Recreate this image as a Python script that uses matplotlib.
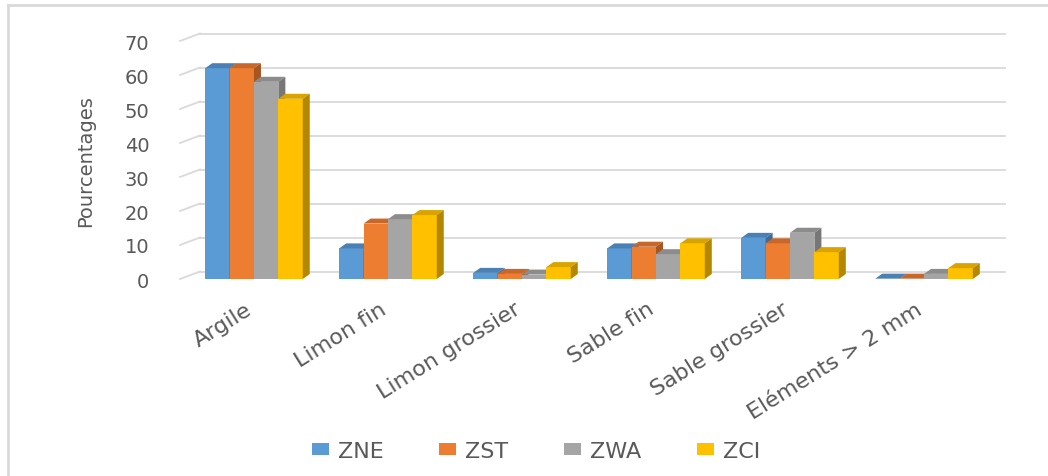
# Histogramme 3D : granulométrie par zone

import matplotlib.pyplot as plt
import numpy as np
from matplotlib.patches import Polygon, Patch
from matplotlib.lines import Line2D
import matplotlib.transforms as mtransforms

categories = ['Argile', 'Limon fin', 'Limon grossier', 'Sable fin', 'Sable grossier', 'Eléments > 2 mm']
series = ['ZNE', 'ZST', 'ZWA', 'ZCI']

zne = [62, 9, 1.8, 9, 12.1, 0.1]
zst = [62, 16.3, 1.5, 9.5, 10.5, 0.1]
zwa = [58, 17.6, 1.3, 7.3, 13.6, 1.5]
zci = [53, 18.8, 3.5, 10.5, 7.9, 3.2]

yticks = [0, 10, 20, 30, 40, 50, 60, 70]

colors = ['#5B9BD5', '#ED7D31', '#A5A5A5', '#FFC000']
tops = ['#4A80B4', '#C8672A', '#8C8C8C', '#D9A300']
sides = ['#3E6C97', '#A85620', '#777777', '#B38700']
text_col = '#595959'
grid_col = '#D9D9D9'

plt.rcParams['font.family'] = ['DejaVu Sans']

fig = plt.figure(figsize=(10.48, 4.77), dpi=100)
# zone du tracé (plan avant)
ax = fig.add_axes([180/1048, 1 - 280/477, 805/1048, 238/477])

x = np.arange(len(categories))
width = 0.182
ax.set_xlim(-0.552, 5.455)
ax.set_ylim(0, 70)

# conversion pixels -> unités de données
p0 = ax.transData.transform((0, 0))
p1 = ax.transData.transform((1, 10))
sx = p1[0] - p0[0]
sy = (p1[1] - p0[1]) / 10

wall_dx, wall_dy = 20 / sx, 7.5 / sy   # profondeur du fond
bar_dx, bar_dy = 7 / sx, 5 / sy         # profondeur des barres

xl0, xl1 = ax.get_xlim()
for v in yticks:
    # quadrillage du mur du fond
    ax.plot([xl0 + wall_dx, xl1 + wall_dx], [v + wall_dy, v + wall_dy],
            color=grid_col, lw=1.3, clip_on=False, zorder=1)
    # petit segment du mur de gauche
    ax.plot([xl0, xl0 + wall_dx], [v, v + wall_dy],
            color=grid_col, lw=1.3, clip_on=False, zorder=1)

data = [zne, zst, zwa, zci]
for i in range(len(x)):
    for j in range(len(series)):
        h = data[j][i]
        x0 = x[i] + (j - 2) * width
        x1 = x0 + width
        z = 3 + j * 0.01 + i
        ax.bar(x0, h, width, align='edge', color=colors[j], zorder=z)
        top = Polygon([(x0, h), (x1, h), (x1 + bar_dx, h + bar_dy), (x0 + bar_dx, h + bar_dy)],
                      closed=True, facecolor=tops[j], edgecolor='none', clip_on=False, zorder=z)
        side = Polygon([(x1, 0), (x1 + bar_dx, bar_dy), (x1 + bar_dx, h + bar_dy), (x1, h)],
                       closed=True, facecolor=sides[j], edgecolor='none', clip_on=False, zorder=z)
        ax.add_patch(top)
        ax.add_patch(side)

for s in ax.spines.values():
    s.set_visible(False)

ax.set_yticks(yticks)
ax.tick_params(axis='y', length=0, pad=22, labelsize=14, labelcolor=text_col)
ax.set_xticks(x)
ax.set_xticklabels(categories, rotation=32, ha='right', rotation_mode='anchor')
ax.tick_params(axis='x', length=0, pad=14, labelsize=16, labelcolor=text_col)
shift = mtransforms.ScaledTranslation(-9 / 100, 0, fig.dpi_scale_trans)
for lab in ax.get_xticklabels():
    lab.set_transform(lab.get_transform() + shift)

ax.set_ylabel('Pourcentages', fontsize=14, color=text_col)
ax.yaxis.set_label_coords(-0.1056, 0.5)

handles = [Patch(facecolor=c, edgecolor='none') for c in colors]
fig.legend(handles, series, loc='center', bbox_to_anchor=(536/1048, 1 - 452/477),
           ncol=4, frameon=False, fontsize=16, handlelength=0.77, handleheight=0.42,
           handletextpad=0.4, columnspacing=2.5, labelcolor=text_col)

# bordure du graphique
fig.add_artist(Line2D([8/1048, 8/1048], [0, 1 - 6/477], color=grid_col, lw=2))
fig.add_artist(Line2D([8/1048, 1], [1 - 6/477, 1 - 6/477], color=grid_col, lw=2))

plt.savefig('out.png', dpi=100)
